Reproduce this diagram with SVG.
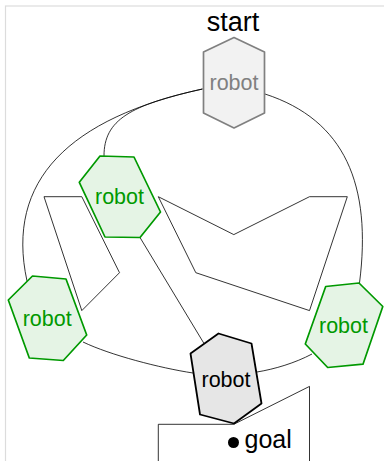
<svg xmlns="http://www.w3.org/2000/svg" width="384" height="461" viewBox="0 0 384 461">
  <style>
    .frame { fill: none; stroke: #dcdcdc; stroke-width: 1.2; }
    .obstacle { fill: none; stroke: #000; stroke-width: 0.8; stroke-linejoin: miter; }
    .edge { fill: none; stroke: #000; stroke-width: 0.8; }
    .lbl { font-family: "Liberation Sans", Arial, sans-serif; text-anchor: middle; }
    .robot-label { font-size: 21.5px; }
    .green-hex { fill: #e5f4e5; stroke: #009900; stroke-width: 1.7; stroke-linejoin: round; }
    .green-txt { fill: #009900; }
    .start-hex { fill: #f2f2f2; stroke: #808080; stroke-width: 1.7; stroke-linejoin: round; }
    .start-txt { fill: #808080; }
    .final-hex { fill: #e6e6e6; stroke: #000; stroke-width: 1.8; stroke-linejoin: round; }
    .final-txt { fill: #000; }
  </style>

  <!-- bounding frame -->
  <rect class="frame" x="5.5" y="6" width="420" height="480"/>

  <!-- obstacles -->
  <g id="obstacles">
    <polygon class="obstacle" points="44,196.7 81.8,196.7 119.5,272.7 81.8,310.6"/>
    <polygon class="obstacle" points="158.3,196.7 233.8,234.6 309.5,196.7 347.3,196.7 309.5,310.6 195.8,272.7"/>
    <polyline class="obstacle" points="158.3,470 158.3,424.3 233.8,424.3 309.5,386.4 309.5,470"/>
  </g>

  <!-- connectors between robot poses -->
  <g id="connectors">
    <path class="edge" d="M202.5,89 C130,105 104,120 104,156"/>
    <path class="edge" d="M202.5,89 C70,118 5,180 27,281"/>
    <path class="edge" d="M265,94 C345,120 372,185 359.5,283"/>
    <path class="edge" d="M140,237.5 L204,343.5"/>
    <path class="edge" d="M83,342 C110,355 160,368 193,373"/>
    <path class="edge" d="M257,372 C275,369 295,363 312,354"/>
  </g>

  <!-- start pose -->
  <g id="start">
    <text class="lbl" x="233" y="30.7" font-size="27">start</text>
    <polygon class="start-hex" points="234,37.5 264.5,52 264.5,113 234,128 203.5,113 203.5,52"/>
    <text class="lbl robot-label start-txt" x="234" y="90">robot</text>
  </g>

  <!-- intermediate poses -->
  <g id="pose-upper">
    <polygon class="green-hex" points="100,156 134,157 160.5,212 140,237.5 105,237 79.3,182.3"/>
    <text class="lbl robot-label green-txt" x="119.5" y="204">robot</text>
  </g>

  <g id="pose-left">
    <polygon class="green-hex" points="32.5,276 66,279 86.7,335 63.3,360.5 29.3,358 8.3,300"/>
    <text class="lbl robot-label green-txt" x="47.2" y="325.7">robot</text>
  </g>

  <g id="pose-right">
    <polygon class="green-hex" points="325.7,286.5 359,283 382.8,306.5 363,364.2 327.7,367.5 305.3,344"/>
    <text class="lbl robot-label green-txt" x="343.5" y="332.7">robot</text>
  </g>

  <!-- final pose -->
  <g id="pose-final">
    <polygon class="final-hex" points="218.5,333.5 251.5,343.5 261.5,403.5 234,423.5 200,414.5 190.5,353.5"/>
    <text class="lbl robot-label final-txt" x="226" y="386.7">robot</text>
  </g>

  <!-- goal marker -->
  <g id="goal">
    <circle cx="233.5" cy="442.5" r="5.5" fill="#000"/>
    <text class="lbl" x="244.5" y="448.3" font-size="25" style="text-anchor:start">goal</text>
  </g>
</svg>
